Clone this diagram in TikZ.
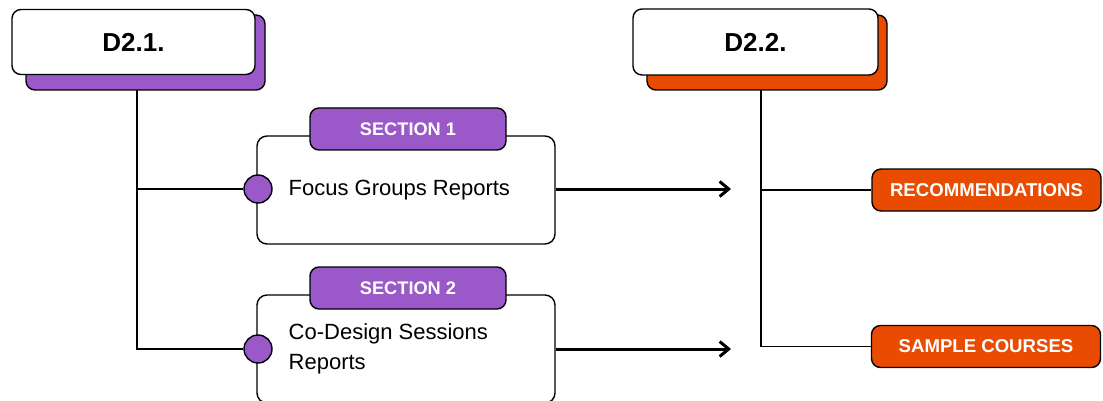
\documentclass[tikz,border=0pt]{standalone}
\usepackage{fontspec}
\setmainfont{Liberation Sans}
\usetikzlibrary{arrows.meta}
\definecolor{secpurple}{RGB}{154,88,201}
\definecolor{recorange}{RGB}{233,75,0}

\begin{document}
\begin{tikzpicture}[
        x=1pt, y=-1pt,
        line width=1.4pt,
        delbox/.style={draw, fill=white, rectangle, rounded corners=9pt, font=\fontsize{26}{30}\selectfont\bfseries},
        delshadow/.style={draw, rectangle, rounded corners=9pt},
        secbox/.style={draw, fill=white, rectangle, rounded corners=10pt, minimum width=298pt, minimum height=108pt},
        seclabel/.style={draw, fill=secpurple, rectangle, rounded corners=9pt, minimum width=196pt, minimum height=42pt, text=white, font=\fontsize{18.2}{22}\selectfont\bfseries},
        outlabel/.style={draw, fill=recorange, rectangle, rounded corners=9pt, minimum width=229pt, minimum height=42pt, text=white, font=\fontsize{18.6}{22}\selectfont\bfseries}
        ]
    \useasboundingbox (0,0) rectangle (1103,401);

    % Define styles
    \tikzstyle{dot} = [draw, fill=secpurple, circle, minimum size=28pt, inner sep=0pt]
    \tikzstyle{flow} = [line width=3pt, -{Straight Barb[length=9pt, width=15pt]}]

    % Define deliverable nodes
    \node[delshadow, fill=secpurple, minimum width=239pt, minimum height=75pt] (D21s) at (145.5, 52.5) {};
    \node[delbox, minimum width=243pt, minimum height=65pt] (D21) at (133.5, 42) {D2.1.};
    \node[delshadow, fill=recorange, minimum width=240pt, minimum height=75pt] (D22s) at (767, 52.5) {};
    \node[delbox, minimum width=245pt, minimum height=66pt] (D22) at (755.5, 42) {D2.2.};

    % Define section nodes
    \node[secbox] (S1) at (406, 190) {};
    \node[secbox] (S2) at (406, 349) {};
    \node[seclabel] (L1) at (408, 129) {SECTION 1};
    \node[seclabel] (L2) at (408, 288) {SECTION 2};
    \node[dot] (c1) at (258, 189) {};
    \node[dot] (c2) at (258, 349) {};
    \node[anchor=west, inner sep=0pt, font=\fontsize{22}{30}\selectfont] (T1) at (288, 190) {Focus Groups Reports};
    \node[anchor=west, inner sep=0pt, align=left, font=\fontsize{22}{30}\selectfont] (T2) at (288, 349) {Co-Design Sessions\\Reports};

    % Define output nodes
    \node[outlabel] (R) at (986.5, 190) {RECOMMENDATIONS};
    \node[outlabel] (C) at (986, 346.5) {SAMPLE COURSES};

    % Define branch points and arrow ends
    \coordinate (t1) at (137, 90);
    \coordinate (t2) at (761, 90);
    \coordinate (a1) at (731, 189);
    \coordinate (a2) at (731, 349);

    % Draw the tree from D2.1 to the sections
    \draw (t1) |- (c1.west);
    \draw (t1) |- (c2.west);

    % Draw the tree from D2.2 to the outputs
    \draw (t2) |- (R.west);
    \draw (t2) |- (C.west);

    % Draw arrows from sections towards D2.2
    \draw[flow] (S1.east |- a1) -- (a1);
    \draw[flow] (S2.east |- a2) -- (a2);

\end{tikzpicture}
\end{document}
